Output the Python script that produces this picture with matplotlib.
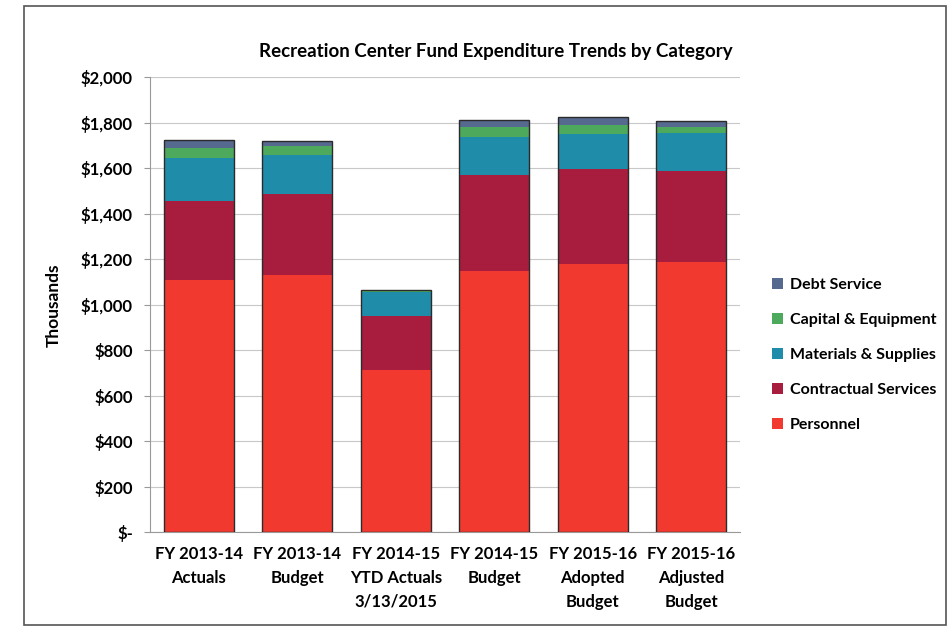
"""Recreation Center Fund expenditure trends, stacked bars by category."""
import matplotlib
matplotlib.use('Agg')
import matplotlib.pyplot as plt
from matplotlib.patches import Rectangle
from matplotlib.ticker import FuncFormatter, MultipleLocator
import numpy

##########################
##  Data (thousands $)  ##
##########################
periods = ['FY 2013-14\nActuals', 'FY 2013-14\nBudget',
           'FY 2014-15\nYTD Actuals\n3/13/2015', 'FY 2014-15\nBudget',
           'FY 2015-16\nAdopted\nBudget', 'FY 2015-16\nAdjusted\nBudget']
categories = ['Personnel', 'Contractual Services', 'Materials & Supplies',
              'Capital & Equipment', 'Debt Service']
personnel = [1108, 1130, 712, 1150, 1180, 1190]
contractual = [349, 358, 239, 420, 418, 397]
materials = [189, 170, 105, 167, 155, 170]
capital = [44, 42, 5, 43, 38, 26]
debt = [35, 22, 3, 31, 35, 26]
colors = ['#F2392F', '#A81D3D', '#1F8CAA', '#4DAA5C', '#56698F']

plt.rcParams['font.family'] = ['Lato', 'DejaVu Sans']
plt.rcParams['font.weight'] = 'bold'

fig = plt.figure(figsize=(9.53, 6.39), dpi=100)
ax = fig.add_axes([0.157, 0.167, 0.62, 0.712])

x = numpy.arange(len(periods))
width = 0.71
series = [personnel, contractual, materials, capital, debt]
bottom = numpy.zeros(len(periods))
handles = []
for vals, name, col in zip(series, categories, colors):
    h = ax.bar(x, vals, width, bottom=bottom, color=col, label=name,
               linewidth=0, zorder=3)
    handles.append(h)
    bottom += numpy.array(vals, dtype=float)
# dark outline around each stack
ax.bar(x, bottom, width, fill=False, edgecolor='#2b2b2b', linewidth=1.0,
       zorder=4)

ax.set_xlim(-0.5, len(periods) - 0.5)
ax.set_ylim(0, 2000)
ax.yaxis.set_major_locator(MultipleLocator(200))
ax.yaxis.set_major_formatter(
    FuncFormatter(lambda v, _: '$-' if v == 0 else f'${v:,.0f}'))
ax.grid(axis='y', color='#c8c8c8', linewidth=0.8, zorder=0)
ax.set_xticks(x)
ax.set_xticklabels(periods, fontsize=12, fontweight='bold',
                   linespacing=1.6)
ax.tick_params(axis='x', length=0, pad=10)
ax.tick_params(axis='y', labelsize=12, length=4, color='#999999', pad=8)
for lab in ax.get_yticklabels():
    lab.set_fontweight('bold')
for side in ('top', 'right'):
    ax.spines[side].set_visible(False)
for side in ('left', 'bottom'):
    ax.spines[side].set_color('#999999')
ax.set_ylabel('Thousands', fontsize=12.5, fontweight='bold', labelpad=14)

fig.text(0.52, 0.92, 'Recreation Center Fund Expenditure Trends by Category',
         ha='center', va='center', fontsize=13.5, fontweight='bold')

fig.legend(handles[::-1], categories[::-1], loc='center left',
           bbox_to_anchor=(0.795, 0.444), frameon=False, fontsize=11.5,
           handlelength=0.7, handleheight=0.7, labelspacing=1.3,
           handletextpad=0.4)

fig.patches.append(Rectangle((0.025, 0.022), 0.968, 0.968,
                             transform=fig.transFigure, fill=False,
                             edgecolor='#555555', linewidth=1.2))

fig.savefig('out.png', dpi=100)
plt.close(fig)
